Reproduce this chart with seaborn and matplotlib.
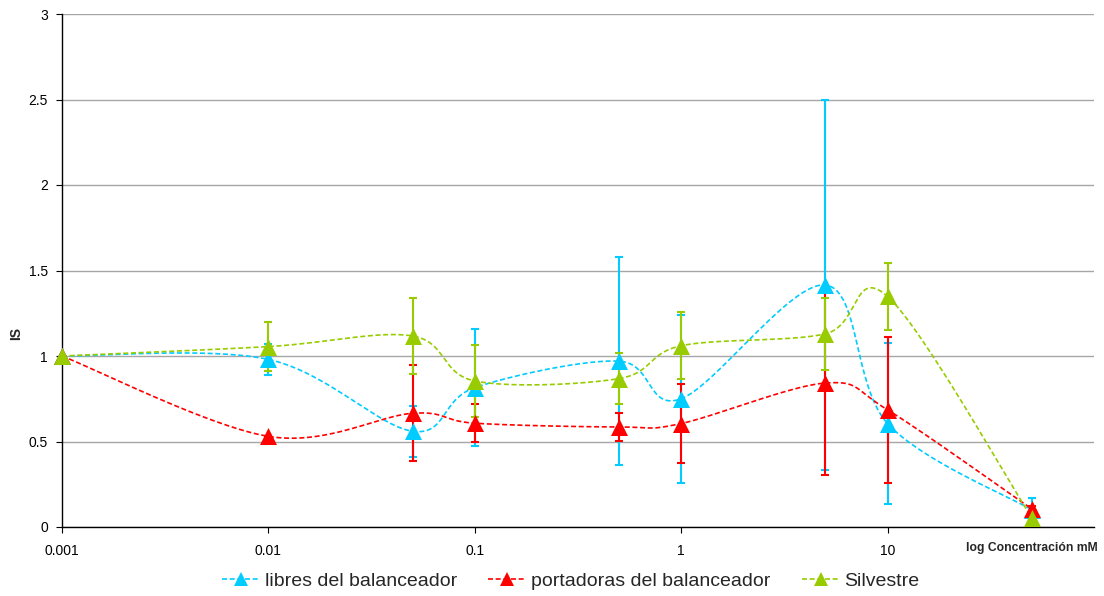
import numpy as np
import pandas as pd
import matplotlib
matplotlib.use("Agg")
import matplotlib.pyplot as plt
from matplotlib.lines import Line2D
import seaborn as sns

# Concentrations (mM) and IS values per group, with error bar half-widths
conc = [0.001, 0.01, 0.05, 0.1, 0.5, 1, 5, 10, 50]
libres = [1.00, 0.98, 0.56, 0.815, 0.97, 0.75, 1.415, 0.605, 0.10]
libres_err = [0.0, 0.09, 0.15, 0.34, 0.61, 0.49, 1.08, 0.47, 0.07]
portadoras = [1.00, 0.53, 0.665, 0.607, 0.585, 0.605, 0.842, 0.685, 0.105]
portadoras_err = [0.0, 0.0, 0.28, 0.11, 0.08, 0.23, 0.54, 0.425, 0.02]
silvestre = [1.00, 1.055, 1.117, 0.854, 0.868, 1.06, 1.13, 1.348, 0.053]
silvestre_err = [0.0, 0.143, 0.225, 0.21, 0.15, 0.195, 0.21, 0.195, 0.0]

names = ["libres del balanceador", "portadoras del balanceador", "Silvestre"]
colors = ["#00CCFF", "#FF0000", "#99CC00"]
x_ticks = [0.001, 0.01, 0.1, 1, 10]
x_tick_labels = ["0.001", "0.01", "0.1", "1", "10"]
y_ticks = [0, 0.5, 1, 1.5, 2, 2.5, 3]
y_tick_labels = ["0", "0.5", "1", "1.5", "2", "2.5", "3"]


def smooth_curve(xs, ys, n=60):
    """Catmull-Rom style Bezier smoothing in (log10 x, y) space."""
    lx = np.log10(np.asarray(xs, dtype=float))
    y = np.asarray(ys, dtype=float)
    pts = np.column_stack([lx, y])
    padded = np.vstack([pts[0], pts, pts[-1]])
    out = []
    t = np.linspace(0, 1, n)[:, None]
    for i in range(len(pts) - 1):
        p0, p1, p2, p3 = padded[i], padded[i + 1], padded[i + 2], padded[i + 3]
        c1 = p1 + (p2 - p0) / 6.0
        c2 = p2 - (p3 - p1) / 6.0
        seg = ((1 - t) ** 3) * p1 + 3 * ((1 - t) ** 2) * t * c1 + 3 * (1 - t) * t ** 2 * c2 + t ** 3 * p2
        out.append(seg if i == 0 else seg[1:])
    curve = np.vstack(out)
    return 10 ** curve[:, 0], curve[:, 1]


sns.set_theme(style="white")
plt.rcParams["font.family"] = ["Liberation Sans", "DejaVu Sans"]

fig = plt.figure(figsize=(11.04, 5.96), dpi=100)
ax = fig.add_axes([62 / 1104, 1 - 527 / 596, (1094 - 62) / 1104, (527 - 14) / 596])

series = [
    (names[0], libres, libres_err, colors[0]),
    (names[1], portadoras, portadoras_err, colors[1]),
    (names[2], silvestre, silvestre_err, colors[2]),
]

frames = []
for name, vals, errs, col in series:
    sx, sy = smooth_curve(conc, vals)
    frames.append(pd.DataFrame({"conc": sx, "IS": sy, "grupo": name}))
curves = pd.concat(frames, ignore_index=True)
points = pd.DataFrame({
    "conc": conc * 3,
    "IS": libres + portadoras + silvestre,
    "grupo": [n for n in names for _ in conc],
})

palette = dict(zip(names, colors))

for k, (name, vals, errs, col) in enumerate(series):
    sns.lineplot(data=curves[curves["grupo"] == name], x="conc", y="IS",
                 color=col, sort=False, estimator=None, ax=ax,
                 linewidth=1.2, dashes=False, zorder=2 + k * 0.01)
    ax.lines[-1].set_dashes([3, 1.6])

for k, (name, vals, errs, col) in enumerate(series):
    ax.errorbar(conc, vals, yerr=errs, fmt="none", ecolor=col,
                elinewidth=1.5, capsize=2.6, capthick=1.5, zorder=3 + k * 0.01)

for k, name in enumerate(names):
    sns.scatterplot(data=points[points["grupo"] == name], x="conc", y="IS",
                    color=palette[name], marker="^", s=150, linewidth=0,
                    ax=ax, zorder=4 + k * 0.01, legend=False, clip_on=False)

ax.set_xscale("log")
ax.set_xlim(0.001, 100)
ax.set_ylim(0, 3)
ax.set_xticks(x_ticks)
ax.set_xticklabels(x_tick_labels)
ax.xaxis.set_minor_locator(matplotlib.ticker.NullLocator())
ax.set_yticks(y_ticks)
ax.set_yticklabels(y_tick_labels)
ax.tick_params(axis="both", which="major", labelsize=10, colors="black",
               direction="out", length=4, width=0.8, pad=6, left=True, bottom=True)
ax.tick_params(axis="x", pad=8)

ax.yaxis.grid(True, color="#a6a6a6", linewidth=1.0)
ax.xaxis.grid(False)
ax.set_axisbelow(True)
for side in ["top", "right"]:
    ax.spines[side].set_visible(False)
for side in ["left", "bottom"]:
    ax.spines[side].set_color("black")
    ax.spines[side].set_linewidth(1.0)

ax.set_xlabel("")
ax.set_ylabel("")
fig.text(16 / 1104, 1 - 333 / 596, "IS", rotation=90, ha="center", va="center",
         fontsize=10, fontweight="bold")
fig.text(1098 / 1104, 1 - 548 / 596, "log Concentración mM", ha="right", va="center",
         fontsize=8.7, fontweight="bold")

handles = [Line2D([0], [0], color=c, linestyle=(0, (3, 1.6)), linewidth=1.2,
                  marker="^", markersize=10, markeredgewidth=0) for c in colors]
fig.legend(handles, names, loc="center", bbox_to_anchor=(571 / 1104, 1 - 581 / 596),
           ncol=3, frameon=False, fontsize=14, handlelength=1.95, handletextpad=0.25,
           columnspacing=1.6)

fig.savefig("out.png", dpi=100)
